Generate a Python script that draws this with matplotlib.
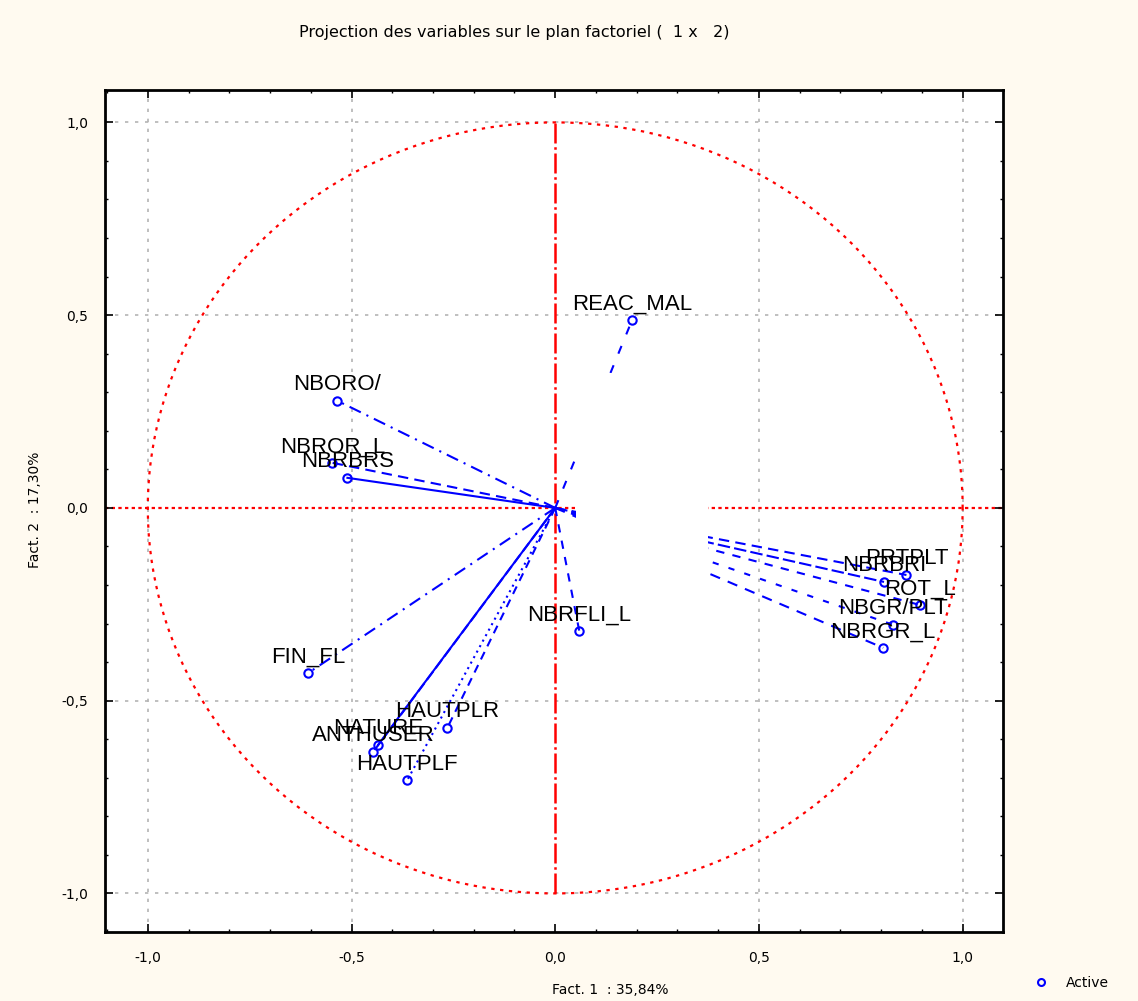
import numpy as np
import matplotlib
matplotlib.use("Agg")
import matplotlib.pyplot as plt
from matplotlib.patches import Rectangle
from matplotlib.lines import Line2D
from matplotlib.ticker import MultipleLocator, FuncFormatter

# variable coordinates on factors 1 and 2
names = ['REAC_MAL', 'NBORO/', 'NBROR_L', 'NBRBRS', 'FIN_FL', 'NATURE', 'ANTHUSER',
         'HAUTPLR', 'HAUTPLF', 'NBRFLI_L', 'PRTPLT', 'NBRBRI', 'ROT_L', 'NBGR/PLT', 'NBRGR_L']
fact1 = [0.189, -0.535, -0.547, -0.510, -0.606, -0.435, -0.447,
         -0.265, -0.363, 0.059, 0.862, 0.807, 0.896, 0.829, 0.805]
fact2 = [0.488, 0.278, 0.117, 0.078, -0.428, -0.615, -0.633,
         -0.571, -0.706, -0.319, -0.174, -0.192, -0.252, -0.303, -0.363]

title = 'Projection des variables sur le plan factoriel (  1 x   2)'
xlabel = 'Fact. 1  : 35,84%'
ylabel = 'Fact. 2  : 17,30%'

line_styles = [(0, (4, 6)), (0, (6, 3, 1, 3)), (0, (5, 3)), '-', (0, (6, 3, 1, 3)),
               '-', (0, (5, 2)), (0, (4, 3)), (0, (1, 2)), (0, (4, 4)),
               (0, (5, 3)), (0, (6, 2)), (0, (4, 4)), (0, (3, 5)), (0, (5, 4))]

blue = '#0000ff'
red = '#ff0000'

fig = plt.figure(figsize=(11.38, 10.01), dpi=100, facecolor='#fffaf0')
ax = fig.add_axes([105 / 1138, 1 - 932 / 1001, 898 / 1138, 842 / 1001])
ax.set_facecolor('white')
ax.set_xlim(-1.105, 1.099)
ax.set_ylim(-1.10, 1.084)

# grid
for v in [-1.0, -0.5, 0.5, 1.0]:
    ax.axvline(v, color='#b4b4b4', lw=1.2, ls=(0, (2, 4)), zorder=1)
    ax.axhline(v, color='#b4b4b4', lw=1.2, ls=(0, (2, 4)), zorder=1)

# unit circle and red axes
t = np.linspace(0, 2 * np.pi, 400)
ax.plot(np.cos(t), np.sin(t), color=red, lw=1.6, ls=(0, (1.5, 2.5)), zorder=1.5)
ax.axhline(0, color=red, lw=1.6, ls=(0, (1.5, 1.5)), zorder=1.5)
ax.plot([0, 0], [-1, 1], color=red, lw=1.8, ls=(0, (8, 1.5, 1, 1.5)), zorder=1.5)

# vectors
for i in range(len(names)):
    ax.plot([0, fact1[i]], [0, fact2[i]], color=blue, lw=1.5, ls=line_styles[i], zorder=2)

# blank zone as in the original rendering
ax.add_patch(Rectangle((0.05, -0.2), 0.325, 0.55, facecolor='white', edgecolor='none', zorder=2.5))

ax.plot(fact1, fact2, 'o', mfc='none', mec=blue, mew=1.5, ms=6, zorder=3)
for i in range(len(names)):
    ax.annotate(names[i], (fact1[i], fact2[i]), xytext=(0, 4), textcoords='offset points',
                ha='center', va='bottom', fontsize=16, family='Liberation Sans',
                color='black', zorder=4)

for s in ax.spines.values():
    s.set_linewidth(2)
ax.xaxis.set_major_locator(MultipleLocator(0.5))
ax.yaxis.set_major_locator(MultipleLocator(0.5))
ax.xaxis.set_minor_locator(MultipleLocator(0.1))
ax.yaxis.set_minor_locator(MultipleLocator(0.1))
fmt = FuncFormatter(lambda v, p: f'{v:.1f}'.replace('.', ',').replace('-0,0', '0,0'))
ax.xaxis.set_major_formatter(fmt)
ax.yaxis.set_major_formatter(fmt)
ax.tick_params(which='both', direction='in', top=True, right=True, labelsize=10)
ax.tick_params(which='major', length=6, width=1.2)
ax.tick_params(which='minor', length=2.5, width=1)
ax.tick_params(axis='x', pad=14)
ax.tick_params(axis='y', pad=12)

fig.text(514 / 1138, 1 - 33 / 1001, title, ha='center', va='center', fontsize=11.5)
fig.text(610 / 1138, 1 - 990 / 1001, xlabel, ha='center', va='center', fontsize=10)
fig.text(35 / 1138, 1 - 510 / 1001, ylabel, ha='center', va='center', fontsize=10, rotation=90)

handle = Line2D([], [], ls='none', marker='o', mfc='none', mec=blue, mew=1.5, ms=5)
fig.legend([handle], ['Active'], loc='center left', bbox_to_anchor=(1015 / 1138, 1 - 983 / 1001),
           frameon=False, fontsize=10, handletextpad=0.8)

fig.savefig('out.png', dpi=100, facecolor=fig.get_facecolor())
